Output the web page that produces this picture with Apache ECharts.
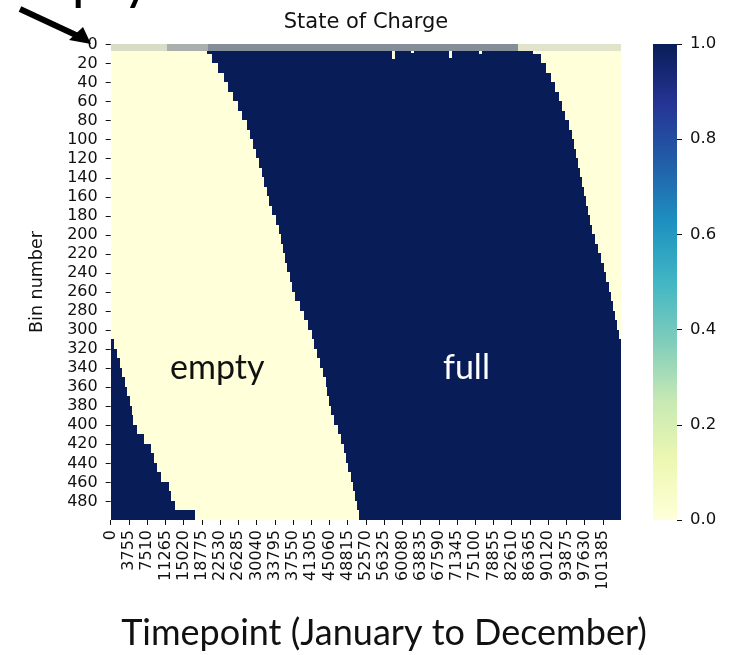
<!DOCTYPE html>
<html>
<head>
<meta charset="utf-8">
<script src="https://cdn.jsdelivr.net/npm/echarts@6/dist/echarts.min.js"></script>
<style>
  html, body { margin: 0; padding: 0; background: #fff; }
  #main { width: 732px; height: 655px; }
</style>
</head>
<body>
<div id="main"></div>
<script>
// 500 bins shown in blocks of 10 bins, timepoints 0..105120
var nTime = 105120;
var nBins = 500;
var binsPerBlock = 10;

// timepoint where each block turns full (one value per block of 10 bins)
var fullStart = [19940, 20970, 22100, 23340, 24230, 25190, 26220, 27050, 27980, 28700,
  29310, 29930, 30550, 31070, 31640, 32200, 32710, 33290, 33990, 34610,
  35080, 35430, 35840, 36320, 36940, 37450, 37970, 38910, 39820, 40640,
  41370, 41880, 42500, 43120, 43730, 44250, 44620, 44970, 45380, 46000,
  46890, 47440, 48000, 48410, 48880, 49400, 49830, 50330, 50740, 51110];
// timepoint where each block turns empty again
var fullEnd = [87000, 88580, 89630, 90760, 91530, 92350, 92870, 93590, 94330, 95030,
  95500, 95890, 96260, 96640, 97090, 97560, 97870, 98240, 98740, 99210,
  99730, 100450, 101040, 101540, 102030, 102550, 103020, 103490, 103890, 104300,
  104810, 105120, 105120, 105120, 105120, 105120, 105120, 105120, 105120, 105120,
  105120, 105120, 105120, 105120, 105120, 105120, 105120, 105120, 105120, 105120];
// lower bins are still full at the start of the year (blocks 31..49)
var earlyFirstBlock = 31;
var earlyEnd = [680, 1400, 1920, 2430, 2910, 3460, 3940, 4350, 4660, 5320,
  6860, 8200, 8860, 9440, 10260, 12010, 12420, 13250, 17370];

// short empty gaps at the top of the full band
var notchStart = [57900, 61800, 69600, 75800];
var notchEnd = [58600, 62400, 70300, 76400];
var notchDepth = [16, 9, 15, 11];

// flickering top bins (0..6): share of full cells per span
var noiseBins = 7;
var noiseStart = [0, 11500, 20000, 84000];
var noiseEnd = [11500, 20000, 84000, 105120];
var noiseShare = [0.15, 0.35, 0.5, 0.12];

var xTicks = [0, 3755, 7510, 11265, 15020, 18775, 22530, 26285, 30040, 33795,
  37550, 41305, 45060, 48815, 52570, 56325, 60080, 63835, 67590, 71345,
  75100, 78855, 82610, 86365, 90120, 93875, 97630, 101385];
var yTicks = [0, 20, 40, 60, 80, 100, 120, 140, 160, 180, 200, 220, 240,
  260, 280, 300, 320, 340, 360, 380, 400, 420, 440, 460, 480];
var barTicks = [0, 0.2, 0.4, 0.6, 0.8, 1];

var ylgnbu = ['#ffffd9', '#edf8b1', '#c7e9b4', '#7fcdbb', '#41b6c4',
  '#1d91c0', '#225ea8', '#253494', '#081d58'];

// cells: [t0, t1, bin0, bin1, value]
var cells = [];
for (var k = 0; k < fullStart.length; k++) {
  var b0 = k * binsPerBlock, b1 = b0 + binsPerBlock;
  cells.push([0, nTime, b0, b1, 0]);
  cells.push([fullStart[k], fullEnd[k], b0, b1, 1]);
  if (k >= earlyFirstBlock) {
    cells.push([0, earlyEnd[k - earlyFirstBlock], b0, b1, 1]);
  }
}
for (var i = 0; i < notchStart.length; i++) {
  cells.push([notchStart[i], notchEnd[i], 0, notchDepth[i], 0]);
}
var noise = [];
for (var j = 0; j < noiseStart.length; j++) {
  noise.push([noiseStart[j], noiseEnd[j], 0, noiseBins, noiseShare[j]]);
}

function mix(a, b, f) {
  var pa = [1, 3, 5].map(function (p) { return parseInt(a.substr(p, 2), 16); });
  var pb = [1, 3, 5].map(function (p) { return parseInt(b.substr(p, 2), 16); });
  return 'rgb(' + pa.map(function (v, n) { return Math.round(v + (pb[n] - v) * f); }).join(',') + ')';
}

function rectOf(api) {
  var p0 = api.coord([api.value(0), api.value(2)]);
  var p1 = api.coord([api.value(1), api.value(3)]);
  var x0 = Math.round(Math.min(p0[0], p1[0])), x1 = Math.round(Math.max(p0[0], p1[0]));
  var y0 = Math.round(Math.min(p0[1], p1[1])), y1 = Math.round(Math.max(p0[1], p1[1]));
  return { x: x0, y: y0, width: x1 - x0, height: y1 - y0 };
}

// colour bar gradient, top = 1.0
var barStops = ylgnbu.map(function (c, n) {
  return { offset: 1 - n / (ylgnbu.length - 1), color: c };
}).reverse();

var tickFont = { fontFamily: 'DejaVu Sans', fontSize: 16, color: '#111' };

var myChart = echarts.init(document.getElementById('main'), null, { renderer: 'canvas' });

var option = {
  animation: false,
  backgroundColor: '#fff',
  title: {
    text: 'State of Charge',
    left: 'center',
    top: 12,
    padding: 0,
    textStyle: { fontFamily: 'DejaVu Sans', fontSize: 21, fontWeight: 'normal', color: '#111' }
  },
  grid: [
    { left: 110.7, top: 44, width: 510.3, height: 476, containLabel: false, outerBoundsMode: 'none' },
    { left: 653, top: 44, width: 24, height: 476, containLabel: false, outerBoundsMode: 'none' }
  ],
  xAxis: [
    {
      type: 'value', min: 0, max: nTime, gridIndex: 0,
      axisLine: { show: false, onZero: false },
      splitLine: { show: false },
      axisTick: { customValues: xTicks, length: 5, lineStyle: { color: '#111' } },
      axisLabel: Object.assign({
        customValues: xTicks, rotate: 90, margin: 10,
        formatter: function (v) { return String(v); }
      }, tickFont)
    },
    { type: 'value', gridIndex: 1, min: 0, max: 1, show: false, axisLine: { onZero: false } }
  ],
  yAxis: [
    {
      type: 'value', min: 0, max: nBins, inverse: true, gridIndex: 0,
      axisLine: { show: false, onZero: false },
      splitLine: { show: false },
      axisTick: { customValues: yTicks.map(function (v) { return v + 0.5; }), length: 5, lineStyle: { color: '#111' } },
      axisLabel: Object.assign({
        customValues: yTicks.map(function (v) { return v + 0.5; }),
        margin: 13,
        formatter: function (v) { return String(Math.floor(v)); }
      }, tickFont),
      name: 'Bin number',
      nameLocation: 'middle',
      nameGap: 64,
      nameRotate: 90,
      nameTextStyle: { fontFamily: 'DejaVu Sans', fontSize: 17.5, color: '#111' }
    },
    {
      type: 'value', min: 0, max: 1, gridIndex: 1, position: 'right',
      axisLine: { show: false, onZero: false },
      splitLine: { show: false },
      axisTick: { customValues: barTicks, length: 5, lineStyle: { color: '#111' } },
      axisLabel: Object.assign({
        customValues: barTicks, margin: 13,
        formatter: function (v) { return v.toFixed(1); }
      }, tickFont, { fontSize: 16.5 })
    }
  ],
  visualMap: {
    type: 'continuous',
    show: false,
    min: 0, max: 1,
    dimension: 4,
    seriesIndex: 0,
    inRange: { color: ylgnbu }
  },
  series: [
    {
      type: 'custom',
      xAxisIndex: 0, yAxisIndex: 0,
      encode: { x: [0, 1], y: [2, 3] },
      data: cells,
      renderItem: function (params, api) {
        return { type: 'rect', shape: rectOf(api), style: { fill: api.visual('color') } };
      }
    },
    {
      type: 'custom',
      xAxisIndex: 0, yAxisIndex: 0,
      encode: { x: [0, 1], y: [2, 3] },
      data: noise,
      renderItem: function (params, api) {
        return { type: 'rect', shape: rectOf(api), style: { fill: mix(ylgnbu[0], ylgnbu[8], api.value(4)) } };
      }
    },
    {
      // colour bar
      type: 'custom',
      xAxisIndex: 1, yAxisIndex: 1,
      encode: { x: [0, 1], y: [2, 3] },
      data: [[0, 1, 0, 1]],
      renderItem: function (params, api) {
        return {
          type: 'rect', shape: rectOf(api),
          style: { fill: new echarts.graphic.LinearGradient(0, 0, 0, 1, barStops) }
        };
      }
    }
  ],
  graphic: [
    { type: 'rect', z: 100, shape: { x: 0, y: 588, width: 732, height: 17 }, style: { fill: '#fff' } },
    { type: 'text', z: 100, x: 170, y: 368, style: { text: 'empty', fontFamily: 'Lato', fontSize: 34, fill: '#111', verticalAlign: 'middle' } },
    { type: 'text', z: 100, x: 443, y: 368, style: { text: 'full', fontFamily: 'Lato', fontSize: 34, fill: '#fff', verticalAlign: 'middle' } },
    { type: 'text', z: 100, x: 384, y: 633, style: { text: 'Timepoint (January to December)', fontFamily: 'Lato', fontSize: 36, fill: '#111', align: 'center', verticalAlign: 'middle' } },
    { type: 'text', z: 100, x: -4, y: -20, style: { text: 'empty', fontFamily: 'Lato', fontSize: 56, fill: '#000', verticalAlign: 'middle' } },
    { type: 'line', z: 100, shape: { x1: 20, y1: 9, x2: 78, y2: 36 }, style: { stroke: '#000', lineWidth: 6 } },
    { type: 'polygon', z: 100, shape: { points: [[91, 44], [69, 40], [83, 27]] }, style: { fill: '#000' } }
  ]
};

myChart.setOption(option);
</script>
</body>
</html>
